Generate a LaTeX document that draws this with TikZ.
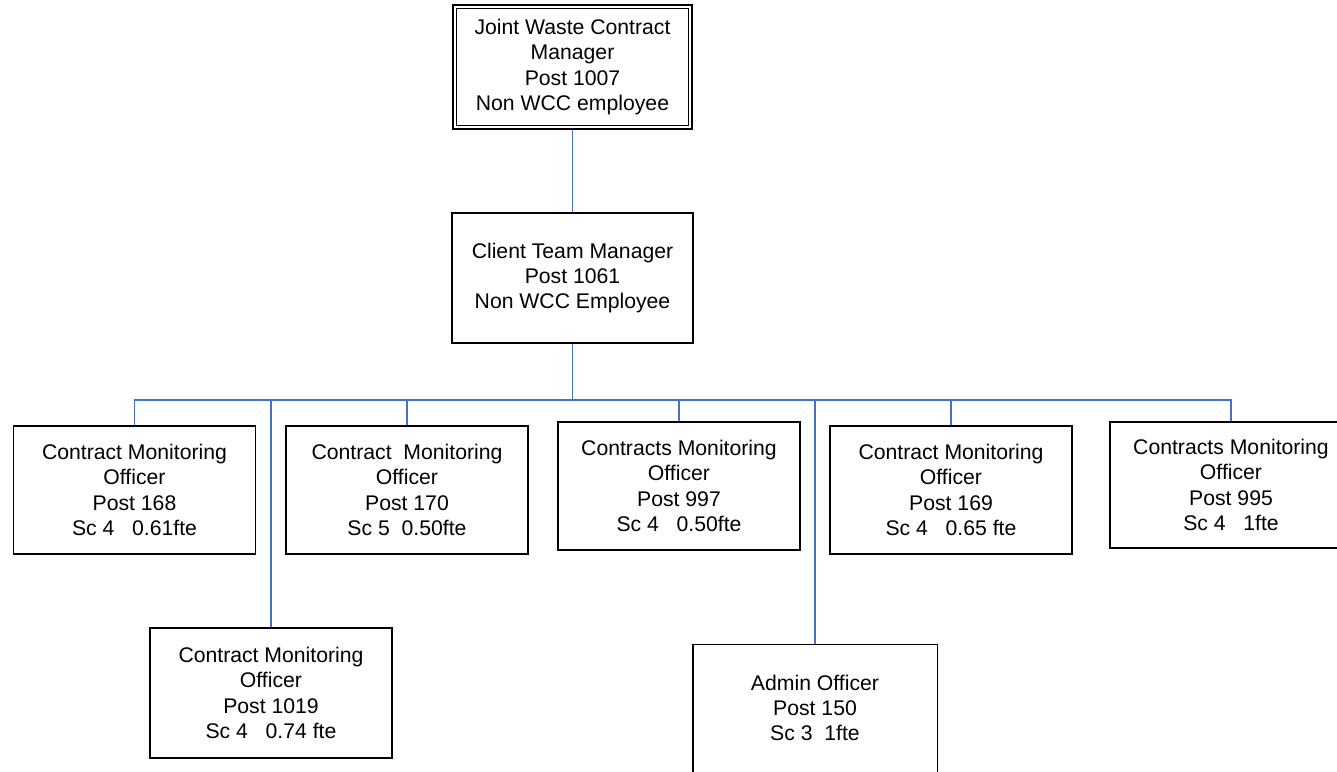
\documentclass[tikz,border=0pt]{standalone}
\usepackage{fontspec}
\setmainfont{Liberation Sans}
\begin{document}
\begin{tikzpicture}[x=1pt,y=-1pt,
  boxline/.style={draw=black,line width=1.3pt},
  post/.style={boxline,fill=white,inner sep=0pt,
    align=center,minimum width=242pt,minimum height=128pt,
    font=\fontsize{21.2}{25.3}\selectfont},
  head/.style={post,line width=2.2pt,minimum width=239pt,minimum height=124pt},
  link/.style={draw={rgb,255:red,68;green,114;blue,196},line width=1.6pt}]
\useasboundingbox (0,0) rectangle (1337,771);

% managers
\node[head] (jwcm) at (572.5,67) {Joint Waste Contract\\Manager\\Post 1007\\Non WCC employee};
\draw[draw=black,line width=1.1pt] ([shift={(4.6,4.6)}]jwcm.north west) rectangle ([shift={(-4.6,-4.6)}]jwcm.south east);
\node[post,minimum width=241pt,minimum height=130pt] (ctm) at (572.5,278) {Client Team Manager\\Post 1061\\Non WCC Employee};

% officers
\node[post] (o168) at (134.5,490) {Contract Monitoring\\Officer\\Post 168\\Sc 4\ \ \ 0.61fte};
\node[post] (o170) at (407,490) {Contract\ \ Monitoring\\Officer\\Post 170\\Sc 5\ \ 0.50fte};
\node[post] (o997) at (679,486) {Contracts Monitoring\\Officer\\Post 997\\Sc 4\ \ \ 0.50fte};
\node[post] (o169) at (951,490) {Contract Monitoring\\Officer\\Post 169\\Sc 4\ \ \ 0.65 fte};
\node[post,minimum height=126pt] (o995) at (1231,485) {Contracts Monitoring\\Officer\\Post 995\\Sc 4\ \ \ 1fte};
\node[post,minimum height=130pt] (o1019) at (271,693) {Contract Monitoring\\Officer\\Post 1019\\Sc 4\ \ \ 0.74 fte};
\node[post,draw=none,minimum width=243pt,minimum height=126pt] (admin) at (815,708) {Admin Officer\\Post 150\\Sc 3\ \ 1fte};
\draw[boxline] (admin.north west) rectangle ([yshift=-30pt]admin.south east);

% reporting lines
\coordinate (bus) at (572.5,400);
\draw[link] (jwcm.south) -- (ctm.north);
\draw[link] (ctm.south) -- (bus);
\draw[link] (o168.north) -- (o168.north |- bus) -- (o995.north |- bus) -- (o995.north);
\draw[link] (o170.north) -- (o170.north |- bus);
\draw[link] (o997.north) -- (o997.north |- bus);
\draw[link] (o169.north) -- (o169.north |- bus);
\draw[link] (o1019.north) -- (o1019.north |- bus);
\draw[link] (admin.north) -- (admin.north |- bus);
\end{tikzpicture}
\end{document}
